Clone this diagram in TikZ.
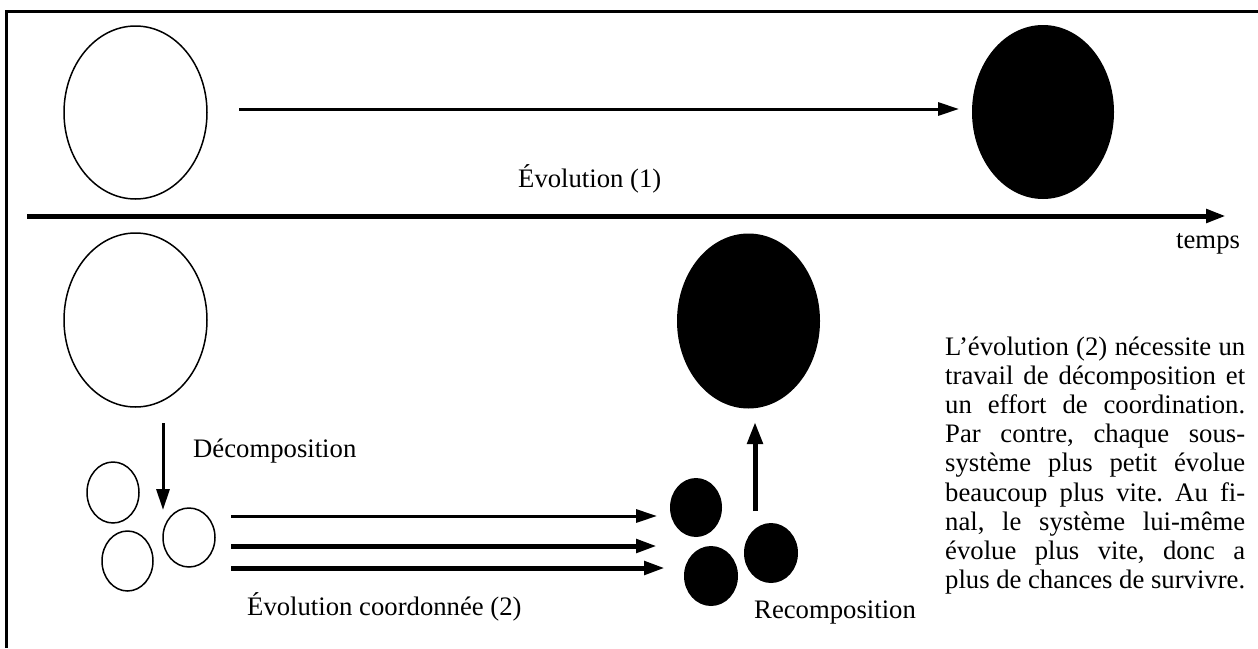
\documentclass[tikz,border=0pt]{standalone}
\usepackage{fontspec}
\setmainfont{Liberation Serif}
\usetikzlibrary{arrows.meta,shapes.geometric}
\frenchspacing
\begin{document}
\begin{tikzpicture}[x=1pt,y=-1pt,
  oval/.style={ellipse,inner sep=0pt,line width=1.5pt},
  openoval/.style={oval,draw=black,fill=white},
  fulloval/.style={oval,fill=black},
  arr/.style={-{Triangle[length=21pt,width=13pt]}},
  lbl/.style={inner sep=0pt,anchor=base west,font=\fontsize{26.7}{29.2}\selectfont\frenchspacing}]
\useasboundingbox (0,0) rectangle (1258,648);
% frame
\draw[line width=3pt] (6.5,648) -- (6.5,11.5) -- (1258,11.5);
% time axis
\coordinate (ax0) at (27,216);
\coordinate (ax1) at (1226,216);
\draw[line width=5pt,-{Triangle[length=20pt,width=13pt]}] (ax0) -- (ax1);
\node[lbl] (temps) at (1176,248) {temps};
% top row
\node[openoval,minimum width=143pt,minimum height=173pt] (big1) at (135.5,112.5) {};
\node[fulloval,minimum width=142pt,minimum height=174pt] (big2) at (1043,112) {};
\coordinate (t0) at (239,109);
\coordinate (t1) at (959,109);
\draw[arr,line width=3pt] (t0) -- (t1);
\node[lbl] (evo1) at (518,187) {Évolution (1)};
% lower row
\node[openoval,minimum width=143pt,minimum height=174pt] (big3) at (135.5,320) {};
\node[fulloval,minimum width=143pt,minimum height=175pt] (big4) at (748.5,321) {};
\node[openoval,minimum width=52pt,minimum height=61pt] (s1) at (113,492.5) {};
\node[openoval,minimum width=51pt,minimum height=60pt] (s2) at (127.5,561) {};
\node[openoval,minimum width=52pt,minimum height=59pt] (s3) at (189,537.5) {};
\node[fulloval,minimum width=52pt,minimum height=59pt] (b1) at (696,507.5) {};
\node[fulloval,minimum width=54pt,minimum height=60pt] (b2) at (711,576) {};
\node[fulloval,minimum width=54pt,minimum height=60pt] (b3) at (771,553) {};
% decomposition
\coordinate (d0) at (163,423);
\coordinate (d1) at (163,510);
\draw[arr,line width=3pt] (d0) -- (d1);
\node[lbl] (decomp) at (193,457) {Décomposition};
% coordinated evolution
\coordinate (h1a) at (231,516);
\coordinate (h1b) at (657,516);
\coordinate (h2a) at (231,546);
\coordinate (h2b) at (657,546);
\coordinate (h3a) at (231,568);
\coordinate (h3b) at (665,568);
\draw[arr,line width=3pt] (h1a) -- (h1b);
\draw[arr,line width=5pt] (h2a) -- (h2b);
\draw[arr,line width=5pt] (h3a) -- (h3b);
\node[lbl] (evo2) at (247,615) {Évolution coordonnée (2)};
% recomposition
\coordinate (r0) at (755,511);
\coordinate (r1) at (755,422);
\draw[line width=5pt,-{Triangle[length=22pt,width=15pt]}] (r0) -- (r1);
\node[lbl] (recomp) at (754,618) {Recomposition};
% paragraph
\node[lbl] (p1) at (945,355.0) {\makebox[300pt][s]{L’évolution (2) nécessite un}};
\node[lbl] (p2) at (945,384.2) {\makebox[300pt][s]{travail de décomposition et}};
\node[lbl] (p3) at (945,413.4) {\makebox[300pt][s]{un effort de coordination.}};
\node[lbl] (p4) at (945,442.6) {\makebox[300pt][s]{Par contre, chaque sous-}};
\node[lbl] (p5) at (945,471.8) {\makebox[300pt][s]{système plus petit évolue}};
\node[lbl] (p6) at (945,501.0) {\makebox[300pt][s]{beaucoup plus vite. Au fi-}};
\node[lbl] (p7) at (945,530.2) {\makebox[300pt][s]{nal, le système lui-même}};
\node[lbl] (p8) at (945,559.4) {\makebox[300pt][s]{évolue plus vite, donc a}};
\node[lbl] (p9) at (945,588.6) {\makebox[300pt][s]{plus de chances de survivre.}};
\end{tikzpicture}
\end{document}
